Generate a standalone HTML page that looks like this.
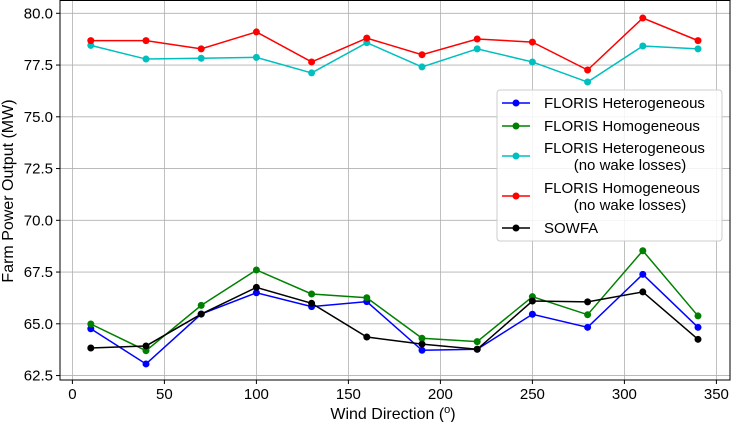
<!DOCTYPE html>
<html><head><meta charset="utf-8"><style>
body{margin:0;background:#fff;}
svg{font-family:"Liberation Sans","DejaVu Sans",sans-serif;}
</style></head><body>
<svg id="c" width="731" height="422"></svg>
<script>
const directions=[10,40,70,100,130,160,190,220,250,280,310,340];
const floHet=[64.76,63.06,65.47,66.5,65.83,66.07,63.72,63.77,65.46,64.83,67.39,64.83];
const floHom=[64.99,63.70,65.89,67.6,66.44,66.26,64.3,64.14,66.31,65.44,68.53,65.38];
const floHetNW=[78.45,77.79,77.83,77.87,77.12,78.58,77.41,78.28,77.65,76.68,78.42,78.28];
const floHomNW=[78.68,78.68,78.28,79.1,77.65,78.8,78.0,78.76,78.61,77.26,79.77,78.68];
const sowfa=[63.83,63.93,65.47,66.76,65.99,64.36,64.02,63.77,66.1,66.06,66.54,64.25];
const xTicks=[0,50,100,150,200,250,300,350];
const yTicks=[62.5,65.0,67.5,70.0,72.5,75.0,77.5,80.0];
const NS="http://www.w3.org/2000/svg";
const svg=document.getElementById('c');
const L=60,R=730,T=0,B=380;
const X=v=>72.4+v*92/50;
const Y=v=>13.3+(80-v)*20.7;
function mk(t,a,p){const e=document.createElementNS(NS,t);for(const k in a)e.setAttribute(k,a[k]);(p||svg).appendChild(e);return e;}
const grid=mk('g',{});


xTicks.forEach(t=>{mk('line',{x1:X(t),x2:X(t),y1:T,y2:B,stroke:'#b0b0b0','stroke-width':0.8},grid);
 mk('line',{x1:X(t),x2:X(t),y1:B,y2:B+4,stroke:'#000'});
 const tx=mk('text',{x:X(t),y:B+19,'text-anchor':'middle','font-size':15});tx.textContent=t;
 
 });
yTicks.forEach(t=>{mk('line',{x1:L,x2:R,y1:Y(t),y2:Y(t),stroke:'#b0b0b0','stroke-width':0.8},grid);
 mk('line',{x1:L-4,x2:L,y1:Y(t),y2:Y(t),stroke:'#000'});
 const tx=mk('text',{x:L-7,y:Y(t)+5,'text-anchor':'end','font-size':15});tx.textContent=t.toFixed(1);
 
 });
const series=[[floHet,'#0000ff','floris-heterogeneous'],[floHom,'#008000','floris-homogeneous'],[floHetNW,'#00bfbf','floris-heterogeneous-no-wake'],[floHomNW,'#ff0000','floris-homogeneous-no-wake'],[sowfa,'#000000','sowfa']];
series.forEach(([d,c,n])=>{
 const g=mk('g',{});
 
 
 mk('polyline',{points:d.map((v,i)=>X(directions[i])+','+Y(v)).join(' '),fill:'none',stroke:c,'stroke-width':1.5},g);
 d.forEach((v,i)=>{const p=mk('circle',{cx:X(directions[i]),cy:Y(v),r:3.5,fill:c},g);
  
  });
});
mk('rect',{x:L,y:T+0.5,width:R-L,height:B-T-0.5,fill:'none',stroke:'#000','stroke-width':1});
const xl=mk('text',{x:393,y:419,'text-anchor':'middle','font-size':16});xl.innerHTML='Wind Direction (<tspan dy="-6" font-size="11">o</tspan><tspan dy="6">)</tspan>';


const yl=mk('text',{x:0,y:0,'text-anchor':'middle','font-size':16,transform:'translate(13,191) rotate(-90)'});yl.textContent='Farm Power Output (MW)';


const lg=mk('g',{});


mk('rect',{x:497,y:90,width:225,height:151,rx:3,fill:'#fff','fill-opacity':0.85,stroke:'#ccc'},lg);
const ents=[['FLORIS Heterogeneous',null,'#0000ff',103],['FLORIS Homogeneous',null,'#008000',126],['FLORIS Heterogeneous','(no wake losses)','#00bfbf',148],['FLORIS Homogeneous','(no wake losses)','#ff0000',188],['SOWFA',null,'#000000',228]];
ents.forEach(([a,b,c,y])=>{
 const g=mk('g',{},lg);
 
 
 const my=b?y+8:y;
 mk('line',{x1:502,x2:530,y1:my,y2:my,stroke:c,'stroke-width':1.5},g);
 mk('circle',{cx:516,cy:my,r:3.5,fill:c},g);
 const t=mk('text',{x:544,y:y+5,'font-size':15},g);t.textContent=a;
 if(b){const t2=mk('text',{x:630,y:y+22,'font-size':15,'text-anchor':'middle'},g);t2.textContent=b;}
});
</script>
</body></html>
